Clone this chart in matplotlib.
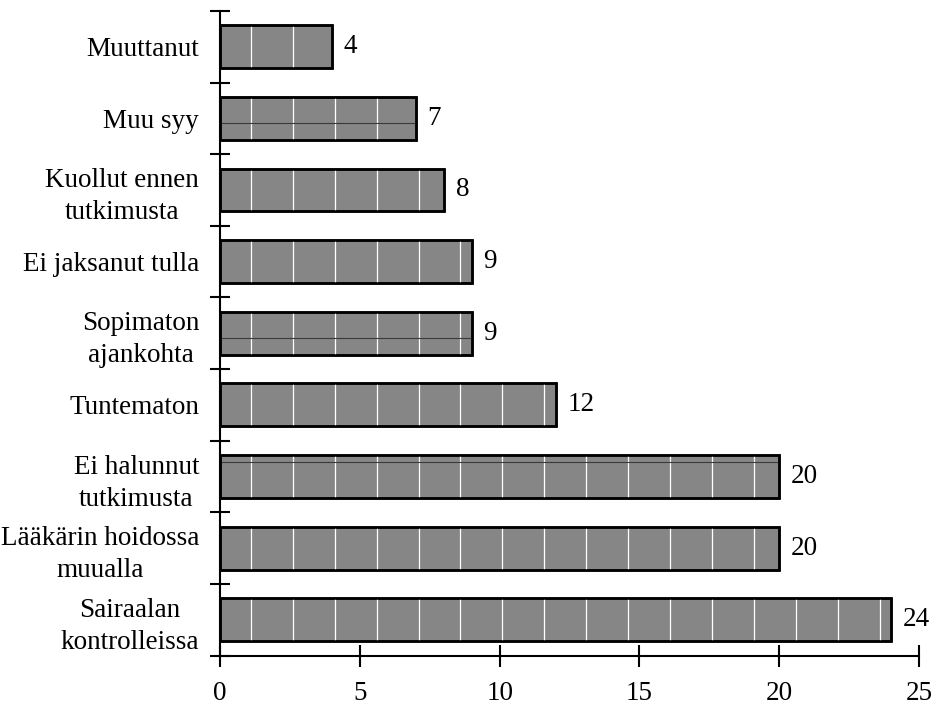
import numpy as np
import matplotlib
matplotlib.use("Agg")
import matplotlib.pyplot as plt

# Reasons for non-attendance, listed top to bottom
categories = [
    "Muuttanut",
    "Muu syy",
    "Kuollut ennen\ntutkimusta",
    "Ei jaksanut tulla",
    "Sopimaton\najankohta",
    "Tuntematon",
    "Ei halunnut\ntutkimusta",
    "Lääkärin hoidossa\nmuualla",
    "Sairaalan\nkontrolleissa",
]
counts = [4, 7, 8, 9, 9, 12, 20, 20, 24]
x_ticks = [0, 5, 10, 15, 20, 25]

plt.rcParams["font.family"] = ["Liberation Serif", "DejaVu Serif"]
FS = 19.5

fig = plt.figure(figsize=(9.36, 7.07), dpi=100)
ax = fig.add_axes([0.235, 0.0726, 0.747, 0.912])

n = len(categories)
ypos = np.arange(n)
bar_h = 0.6

bars = ax.barh(ypos, counts, height=bar_h, color="#868686",
               edgecolor="black", linewidth=1.8, zorder=2)

# white vertical stripes of the fill pattern, clipped to each bar
stripe_x = np.arange(1.1, 25, 1.5)
for rect, y, v in zip(bars, ypos, counts):
    xs = stripe_x[stripe_x < v - 0.05]
    lc = ax.vlines(xs, y - bar_h / 2, y + bar_h / 2, colors="white",
                   linewidth=0.9, zorder=3)
    lc.set_clip_path(rect)

# thin darker seam lines inside some of the bars
for idx, frac in [(1, 0.6), (4, 0.62), (6, 0.15)]:
    y = ypos[idx] - bar_h / 2 + frac * bar_h
    ax.plot([0, counts[idx]], [y, y], color="#3a3a3a", linewidth=0.8,
            zorder=3, solid_capstyle="butt")

# redraw outlines on top of the stripes
for rect in bars:
    ax.add_patch(plt.Rectangle(rect.get_xy(), rect.get_width(), rect.get_height(),
                               fill=False, edgecolor="black", linewidth=1.8, zorder=4))

for y, v in zip(ypos, counts):
    ax.annotate(str(v), (v, y), xytext=(8.5, 0), textcoords="offset points",
                ha="left", va="center", fontsize=FS)

ax.set_xlim(0, 25)
ax.set_ylim(n - 0.5, -0.5)

ax.set_xticks(x_ticks)
ax.set_xticklabels([str(t) for t in x_ticks], fontsize=FS)

# boundaries get tick marks, centres get the labels
ax.set_yticks(np.arange(n + 1) - 0.5)
ax.set_yticklabels([])
ax.set_yticks(ypos, minor=True)
ax.set_yticklabels(categories, minor=True, fontsize=FS, multialignment="center",
                   linespacing=1.38)

ax.tick_params(axis="y", which="major", direction="inout", length=14, width=1.5)
ax.tick_params(axis="y", which="minor", length=0, pad=15)
ax.tick_params(axis="x", which="major", direction="inout", length=16, width=1.5, pad=10)

for side in ["top", "right"]:
    ax.spines[side].set_visible(False)
for side in ["left", "bottom"]:
    ax.spines[side].set_linewidth(1.5)

fig.savefig("out.png", dpi=100)
